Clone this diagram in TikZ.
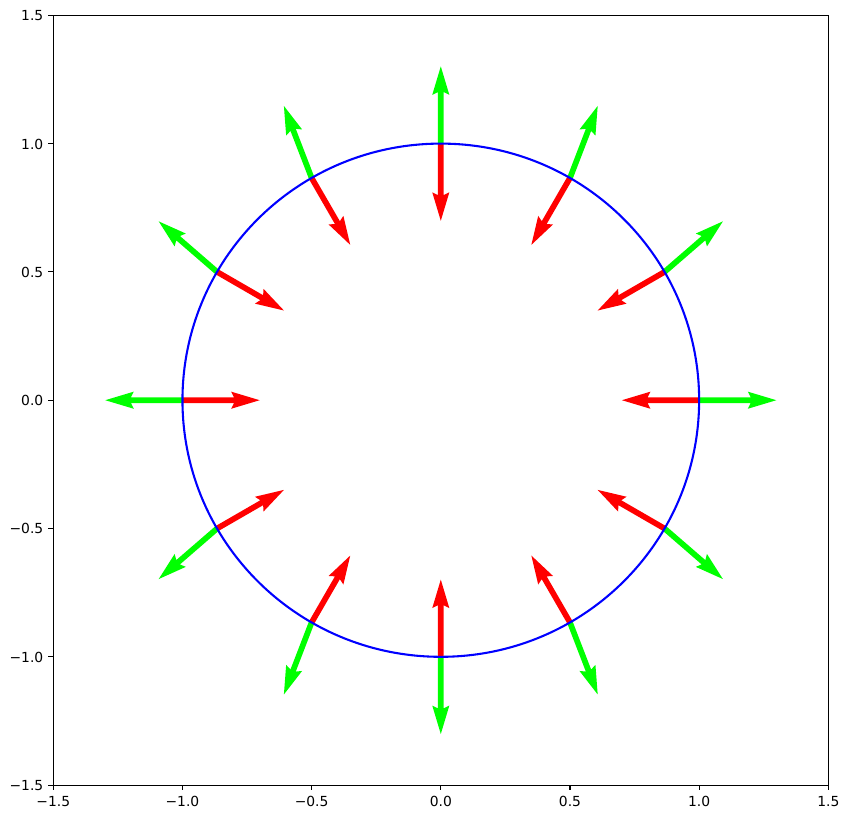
\documentclass[tikz,border=0pt]{standalone}
\usepackage{fontspec}
\setmainfont{DejaVu Sans}
\tikzset{
  axisline/.style={line width=0.83pt, black},
  ticklab/.style={inner sep=0pt, font=\fontsize{10.4}{12}\selectfont},
  circ/.style={line width=1.56pt, color={rgb,1:red,0;green,0;blue,1}},
}
\definecolor{qgreen}{rgb}{0,1,0}
\definecolor{qred}{rgb}{1,0,0}
\newcommand\qarrow[3]{%
  \fill[#3, shift={(#1)}, rotate=#2]
    (0pt,2.14pt) -- (38.66pt,2.14pt) -- (36.53pt,6.41pt) -- (57.9pt,0pt)
    -- (36.53pt,-6.41pt) -- (38.66pt,-2.14pt) -- (0pt,-2.14pt) -- cycle;}
\begin{document}
\begin{tikzpicture}[x=193.75pt, y=192.45pt]
\useasboundingbox (-330.6pt,-314.1pt) rectangle (306.15pt,300.15pt);
% arrows
\foreach \k in {0,...,11}{
  \pgfmathsetmacro\a{30*\k}
  \pgfmathsetmacro\g{atan2(1.5*sin(\a),cos(\a))}
  \coordinate (p\k) at (\a:1);
  \qarrow{p\k}{\g}{qgreen}
  \qarrow{p\k}{\a+180}{qred}
}
% circle
\node[circle, minimum size=0pt] (c) at (0,0) {};
\draw[circ] (c.center) ellipse [x radius=1, y radius=1];
% frame
\draw[axisline] (-1.5,-1.5) rectangle (1.5,1.5);
% ticks
\foreach \v/\t [count=\i] in {-1.5/{−1.5},-1.0/{−1.0},-0.5/{−0.5},0.0/{0.0},0.5/{0.5},1.0/{1.0},1.5/{1.5}}{
  \coordinate (xt\i) at (\v,-1.5);
  \coordinate (yt\i) at (-1.5,\v);
  \draw[axisline] (xt\i) -- ++(0,-3.65pt);
  \draw[axisline] (yt\i) -- ++(-3.65pt,0);
  \node[ticklab, anchor=north] (xl\i) at ([yshift=-8.3pt]xt\i) {\t};
  \node[ticklab, anchor=east] (yl\i) at ([xshift=-7.3pt,yshift=-0.3pt]yt\i) {\t};
}
\end{tikzpicture}
\end{document}
